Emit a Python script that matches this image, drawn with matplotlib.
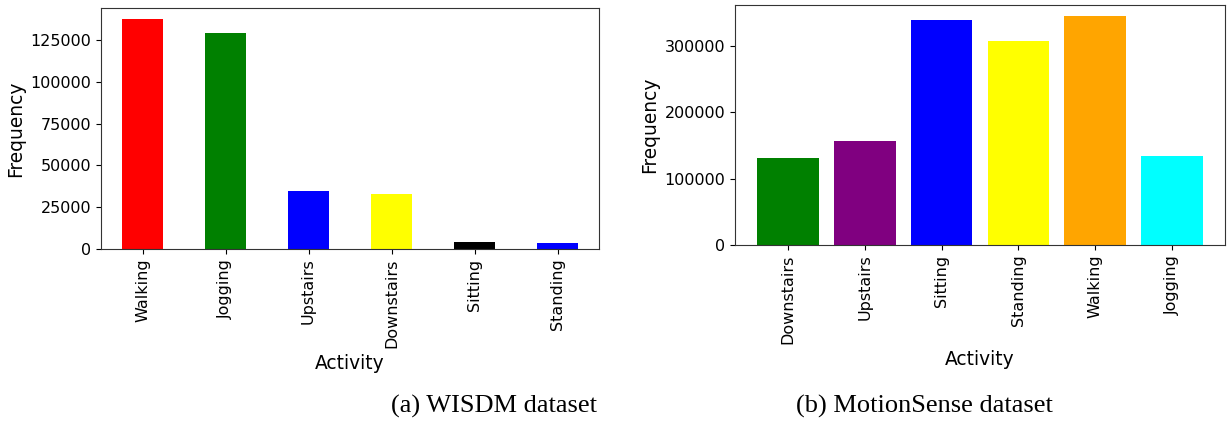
import matplotlib
matplotlib.use("Agg")
import matplotlib.pyplot as plt

W, H = 1227, 421

# (a) WISDM
wisdm_labels = ["Walking", "Jogging", "Upstairs", "Downstairs", "Sitting", "Standing"]
wisdm_counts = [137400, 129400, 34800, 33000, 4400, 3400]
wisdm_colors = ["red", "green", "blue", "yellow", "black", "blue"]

# (b) MotionSense
ms_labels = ["Downstairs", "Upstairs", "Sitting", "Standing", "Walking", "Jogging"]
ms_counts = [131400, 157000, 338200, 306500, 344200, 134400]
ms_colors = ["green", "purple", "blue", "yellow", "orange", "cyan"]

captions = ["(a) WISDM dataset", "(b) MotionSense dataset"]

TICK_FS = 11.5
LABEL_FS = 13.4


def px_axes(fig, x0, y0, x1, y1):
    return fig.add_axes([x0 / W, 1 - y1 / H, (x1 - x0) / W, (y1 - y0) / H])


fig = plt.figure(figsize=(W / 100, H / 100), dpi=100)

ax1 = px_axes(fig, 101, 8, 599, 249)
ax1.bar(range(len(wisdm_labels)), wisdm_counts, width=0.5, color=wisdm_colors)
ax1.set_xlim(-0.5, len(wisdm_labels) - 0.5)
ax1.set_xticks(range(len(wisdm_labels)))
ax1.set_xticklabels(wisdm_labels, rotation=90)

ax2 = px_axes(fig, 735, 5, 1225, 245)
ax2.bar(range(len(ms_labels)), ms_counts, width=0.8, color=ms_colors)
ax2.set_xticks(range(len(ms_labels)))
ax2.set_xticklabels(ms_labels, rotation=90)

for ax in (ax1, ax2):
    ax.set_xlabel("Activity", fontsize=LABEL_FS)
    ax.set_ylabel("Frequency", fontsize=LABEL_FS)
    ax.tick_params(labelsize=TICK_FS)
    for sp in ax.spines.values():
        sp.set_color("#333333")

fig.text(494 / W, 1 - 406 / H, captions[0], ha="center", va="center",
         fontsize=19, family="Liberation Serif")
fig.text(924 / W, 1 - 406 / H, captions[1], ha="center", va="center",
         fontsize=19, family="Liberation Serif")

fig.savefig("out.png", dpi=100)
